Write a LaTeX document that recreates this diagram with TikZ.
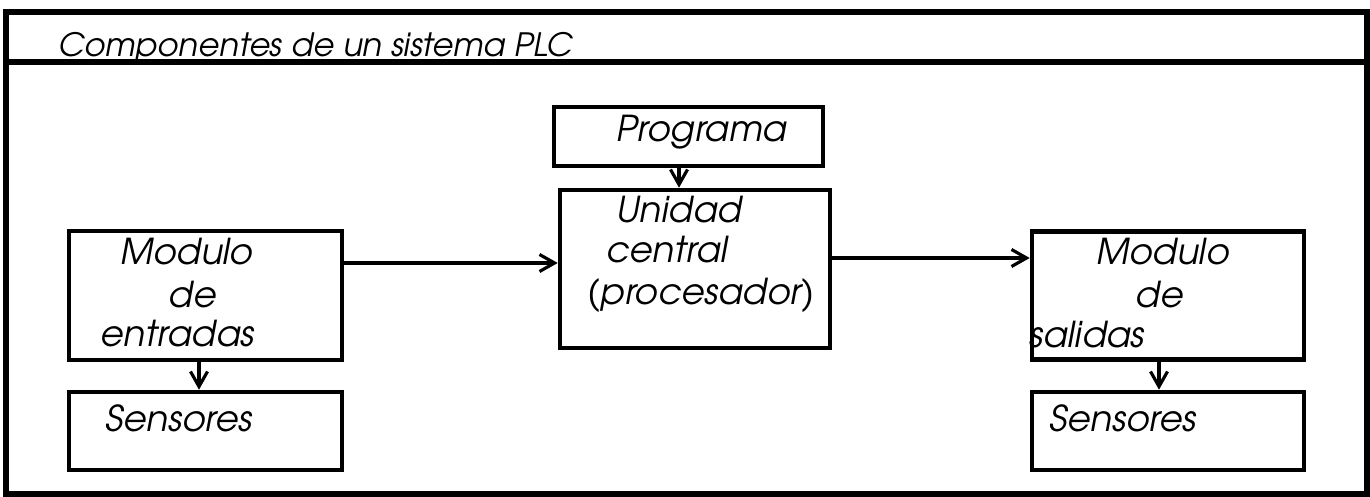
\documentclass[tikz,border=0pt]{standalone}
\usepackage{fontspec}
\setmainfont{TeX Gyre Adventor}
\usetikzlibrary{arrows.meta}

\begin{document}
\begin{tikzpicture}[->,>={Straight Barb[length=3mm,width=3.4mm]},line width=1.8pt,draw=black]
	\fontsize{20.3}{24}\selectfont\itshape
	\def \headline{8.80}
	\def \progrow{7.21}
	\def \midrow{4.03}
	\def \sensrow{1.32}
	\def \lineone{4.64}
	\def \linetwo{3.78}
	\def \linethree{3.00}

	\tikzstyle{box}=[rectangle,draw=black,line width=2.6pt,inner sep=0pt]
	\tikzstyle{txt}=[anchor=base west,inner sep=0pt]

	\useasboundingbox (0,0) rectangle (27.4,9.94);
	% frame
	\draw[-,line width=3pt] (0.12,0.06) rectangle (27.34,9.70);
	\draw[-,line width=3pt] (0.12,8.70) -- (27.34,8.70);
	\node[txt,font=\fontsize{18.3}{22}\selectfont\itshape] (title) at (1.14,\headline) {Componentes de un sistema PLC};

	% blocks
	\node[box,minimum width=5.38cm,minimum height=1.18cm] (prog)	at (13.77,\progrow)	{};
	\node[box,minimum width=5.40cm,minimum height=3.16cm] (cpu)	at (13.90,4.56)		{};
	\node[box,minimum width=5.46cm,minimum height=2.58cm] (inmod)	at (4.11,\midrow)	{};
	\node[box,minimum width=5.46cm,minimum height=1.56cm] (insens)	at (4.11,\sensrow)	{};
	\node[box,minimum width=5.44cm,minimum height=2.56cm] (outmod)	at (23.36,\midrow)	{};
	\node[box,minimum width=5.44cm,minimum height=1.56cm] (outsens)	at (23.36,\sensrow)	{};

	% labels
	\node[txt] (progtxt)	at (12.30,7.10)		{Programa};
	\node[txt] (cpua)	at (12.30,5.48)		{Unidad};
	\node[txt] (cpub)	at (12.10,4.68)		{central};
	\node[txt] (cpuc)	at (11.72,3.84)		{(procesador)};
	\node[txt] (ina)	at (2.38,\lineone)	{Modulo};
	\node[txt] (inb)	at (3.34,\linetwo)	{de};
	\node[txt] (inc)	at (1.98,\linethree)	{entradas};
	\node[txt] (outa)	at (21.90,\lineone)	{Modulo};
	\node[txt] (outb)	at (22.68,\linetwo)	{de};
	\node[txt] (outc)	at (20.56,2.98)		{salidas};
	\node[txt] (insenstxt)	at (2.08,1.30)		{Sensores};
	\node[txt] (outsenstxt)	at (20.96,1.30)		{Sensores};

	\path
		([yshift=6.5mm]inmod.east)	edge	([yshift=6.5mm]inmod.east -| cpu.west)
		([yshift=2.2mm]cpu.east)	edge	([yshift=2.2mm]cpu.east -| outmod.west)
		([xshift=-1.9mm]prog.south)	edge	([xshift=-1.9mm]prog.south |- cpu.north)
		([xshift=-1.3mm]inmod.south)	edge	([xshift=-1.3mm]inmod.south |- insens.north)
		([xshift=-1.8mm]outmod.south)	edge	([xshift=-1.8mm]outmod.south |- outsens.north);
\end{tikzpicture}
\end{document}
